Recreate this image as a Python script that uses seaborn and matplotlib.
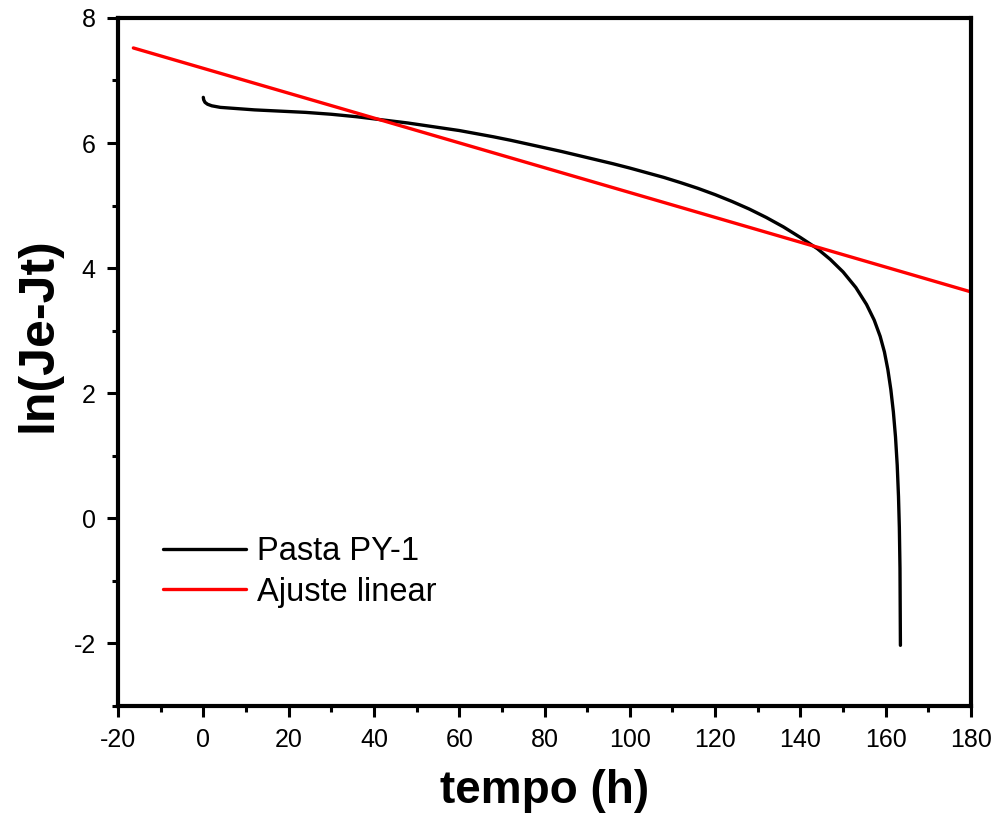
import matplotlib
matplotlib.use("Agg")
import matplotlib.pyplot as plt
import seaborn as sns
import pandas as pd
from matplotlib.ticker import MultipleLocator

# --- data ---
tempo = [0, 0.1, 0.4, 1.0, 2.0, 4, 8, 12, 18, 24, 30, 36, 42, 48, 54, 60,
         64, 68, 72, 76, 80, 84, 88, 92, 96, 100, 104, 108, 112, 116, 120,
         124, 128, 132, 136, 140, 144, 147, 150, 153, 155.5, 157.3, 158.7,
         159.7, 160.5, 161.2, 161.8, 162.3, 162.7, 163.0, 163.2, 163.35,
         163.45]
ln_je_jt = [6.73, 6.69, 6.65, 6.62, 6.595, 6.57, 6.55, 6.53, 6.51, 6.49,
            6.46, 6.42, 6.37, 6.32, 6.26, 6.20, 6.15, 6.10, 6.045, 5.985,
            5.925, 5.865, 5.80, 5.735, 5.67, 5.60, 5.525, 5.45, 5.365, 5.275,
            5.175, 5.065, 4.945, 4.81, 4.66, 4.49, 4.31, 4.14, 3.94, 3.69,
            3.42, 3.17, 2.91, 2.66, 2.38, 2.06, 1.70, 1.30, 0.85, 0.35,
            -0.15, -0.80, -2.03]
fit_t = [-16.4, 180]
fit_y = [7.52, 3.62]

labels = ["Pasta PY-1", "Ajuste linear"]
colors = ["#000000", "#ff0000"]

df = pd.concat([
    pd.DataFrame({"t": tempo, "y": ln_je_jt, "s": labels[0]}),
    pd.DataFrame({"t": fit_t, "y": fit_y, "s": labels[1]}),
], ignore_index=True)

sns.set_style("ticks")
plt.rcParams["font.family"] = ["Liberation Sans", "DejaVu Sans"]
plt.rcParams["axes.unicode_minus"] = False
plt.rcParams["text.color"] = "black"
plt.rcParams["axes.labelcolor"] = "black"
plt.rcParams["xtick.color"] = "black"
plt.rcParams["ytick.color"] = "black"

fig = plt.figure(figsize=(10, 8.3), dpi=100)
ax = fig.add_axes([0.118, 0.1494, 0.853, 0.829])

sns.lineplot(data=df, x="t", y="y", hue="s", palette=dict(zip(labels, colors)),
             sort=False, estimator=None, linewidth=2.4, ax=ax)

ax.set_xlim(-20, 180)
ax.set_ylim(-3, 8)
ax.xaxis.set_major_locator(MultipleLocator(20))
ax.xaxis.set_minor_locator(MultipleLocator(10))
ax.yaxis.set_major_locator(MultipleLocator(2))
ax.yaxis.set_minor_locator(MultipleLocator(1))

for sp in ax.spines.values():
    sp.set_visible(True)
    sp.set_linewidth(3)
    sp.set_color("black")

ax.tick_params(which="major", direction="out", length=8, width=2.2,
               labelsize=18, pad=8, colors="black")
ax.tick_params(which="minor", direction="out", length=4.5, width=2.2,
               colors="black")
ax.tick_params(top=False, right=False, which="both")

ax.set_xlabel("tempo (h)", fontsize=33, fontweight="bold", labelpad=12,
              color="black")
ax.set_ylabel("ln(Je-Jt)", fontsize=36, fontweight="bold", color="black")
ax.yaxis.set_label_coords(-0.066, 0.54)

handles, labs = ax.get_legend_handles_labels()
leg = ax.legend(handles, labs, loc="lower left", bbox_to_anchor=(0.018, 0.10),
                frameon=False, fontsize=23.5, handlelength=2.55,
                handletextpad=0.35, labelspacing=0.3)
for txt in leg.get_texts():
    txt.set_color("black")

fig.savefig("out.png", dpi=100)
